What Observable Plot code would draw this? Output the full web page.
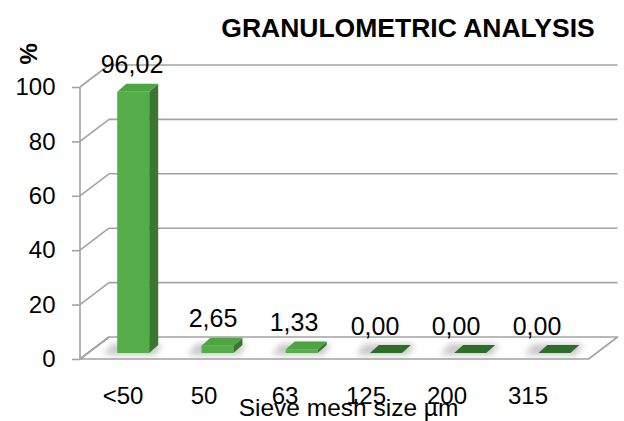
<!DOCTYPE html>
<html>
<head>
<meta charset="utf-8">
<script src="https://cdn.jsdelivr.net/npm/d3@7"></script>
<script src="https://cdn.jsdelivr.net/npm/@observablehq/plot@0.6"></script>
<style>
  html, body { margin: 0; padding: 0; background: #fff; }
  #chart svg { display: block; }
</style>
</head>
<body>
<div id="chart"></div>
<script>
// ---- data ----
const categories = ["<50", "50", "63", "125", "200", "315"];
const percent = [96.02, 2.65, 1.33, 0.00, 0.00, 0.00];
const yTicks = [0, 20, 40, 60, 80, 100];
const title = "GRANULOMETRIC ANALYSIS";
const xTitle = "Sieve mesh size µm";
const yTitle = "%";

const rows = categories.map((c, i) => ({cat: c, value: percent[i]}));
const fmt = v => v.toFixed(2).replace(".", ",");

// ---- 3D look (pixel offsets of the pseudo-perspective) ----
const wall = {dx: 29, dy: -22};     // depth of floor / back wall
const persp = 1.04;                  // front plane vs label plane
const barShift = {dx: 9, dy: -6};    // bar front face inside the depth
const barDepth = {dx: 9, dy: -8};    // bar side / top depth
const barHalf = 16;
const gridColor = "#a3a3a3";
const cFront = "#56ae4b", cSide = "#3a7631", cTop = "#4ea443", cZero = "#2f6b29";

function scene(index, scales, values, dims) {
  const {x, y} = scales;
  const left = dims.marginLeft, right = dims.width - dims.marginRight;
  const px = v => left + persp * (v - left);
  const bw = x(categories[1]) - x(categories[0]);
  const fr = px(right);
  const g = d3.create("svg:g");
  const defs = g.append("defs");
  defs.append("filter").attr("id", "shadowBlur").attr("x", "-50%").attr("y", "-50%").attr("width", "200%").attr("height", "200%")
    .append("feGaussianBlur").attr("stdDeviation", 3);

  const line = (x1, y1, x2, y2) => g.append("line")
    .attr("x1", x1).attr("y1", y1).attr("x2", x2).attr("y2", y2)
    .attr("stroke", gridColor).attr("stroke-width", 1.6);

  // front axis line
  line(left, y(0), left, y(yTicks[yTicks.length - 1]));
  // back-wall gridlines and side diagonals
  for (const t of yTicks) {
    line(left, y(t), left + wall.dx, y(t) + wall.dy);
    if (t !== 0) line(left + wall.dx, y(t) + wall.dy, fr + wall.dx, y(t) + wall.dy);
  }
  // floor
  g.append("path")
    .attr("d", `M${left},${y(0)}L${fr},${y(0)}L${fr + wall.dx},${y(0) + wall.dy}L${left + wall.dx},${y(0) + wall.dy}Z`)
    .attr("fill", "none").attr("stroke", gridColor).attr("stroke-width", 1.6).attr("stroke-linejoin", "round");

  const poly = (pts, fill) => g.append("path")
    .attr("d", "M" + pts.map(p => p.join(",")).join("L") + "Z").attr("fill", fill);

  // bars
  rows.forEach(d => {
    const cx = px(x(d.cat) + bw / 2) + barShift.dx;
    const y0 = y(0) + barShift.dy;
    const yt = y(d.value) + barShift.dy;
    const l = cx - barHalf, r = cx + barHalf;
    // soft shadow on the floor
    g.append("path")
      .attr("d", `M${l - 14},${y0 + 2}L${r + 6},${y0 + 2}L${r + barDepth.dx + 4},${y0 + barDepth.dy - 1}L${l + barDepth.dx - 14},${y0 + barDepth.dy - 1}Z`)
      .attr("fill", "#9a9a9a").attr("opacity", 0.55).attr("filter", "url(#shadowBlur)");
    if (d.value > 0) {
      poly([[l, yt], [r, yt], [r, y0], [l, y0]], cFront);
      poly([[r, y0], [r, yt], [r + barDepth.dx, yt + barDepth.dy], [r + barDepth.dx, y0 + barDepth.dy]], cSide);
    }
    poly([[l, yt], [r, yt], [r + barDepth.dx, yt + barDepth.dy], [l + barDepth.dx, yt + barDepth.dy]], d.value > 0 ? cTop : cZero);
  });
  return g.node();
}

const chart = Plot.plot({
  width: 624,
  height: 421,
  marginLeft: 80,
  marginRight: 55,
  marginTop: 87,
  marginBottom: 62,
  style: {fontFamily: "'Liberation Sans', Arial, sans-serif", color: "#000", background: "#fff"},
  x: {type: "band", domain: categories, padding: 0},
  y: {domain: [0, 100]},
  marks: [
    scene,
    Plot.axisY({ticks: yTicks, tickSize: 8, tickPadding: 17, fontSize: 24, stroke: gridColor, strokeWidth: 1.6, label: null}),
    Plot.axisX({tickSize: 0, tickPadding: 27, fontSize: 24, label: null}),
    Plot.text(rows, {x: "cat", y: "value", text: d => fmt(d.value), dx: 9, dy: -33, fontSize: 25}),
    Plot.text([title], {frameAnchor: "top", lineAnchor: "middle", text: d => d, dx: 83, dy: -59, fontSize: 26.5, fontWeight: "bold"}),
    Plot.text([yTitle], {frameAnchor: "top-left", lineAnchor: "middle", text: d => d, dx: -51, dy: -23, rotate: -90, fontSize: 24, fontWeight: "bold"}),
    Plot.text([xTitle], {frameAnchor: "bottom", lineAnchor: "middle", text: d => d, dx: 23.5, dy: 49, fontSize: 24.5})
  ]
});
document.getElementById("chart").append(chart);
</script>
</body>
</html>
